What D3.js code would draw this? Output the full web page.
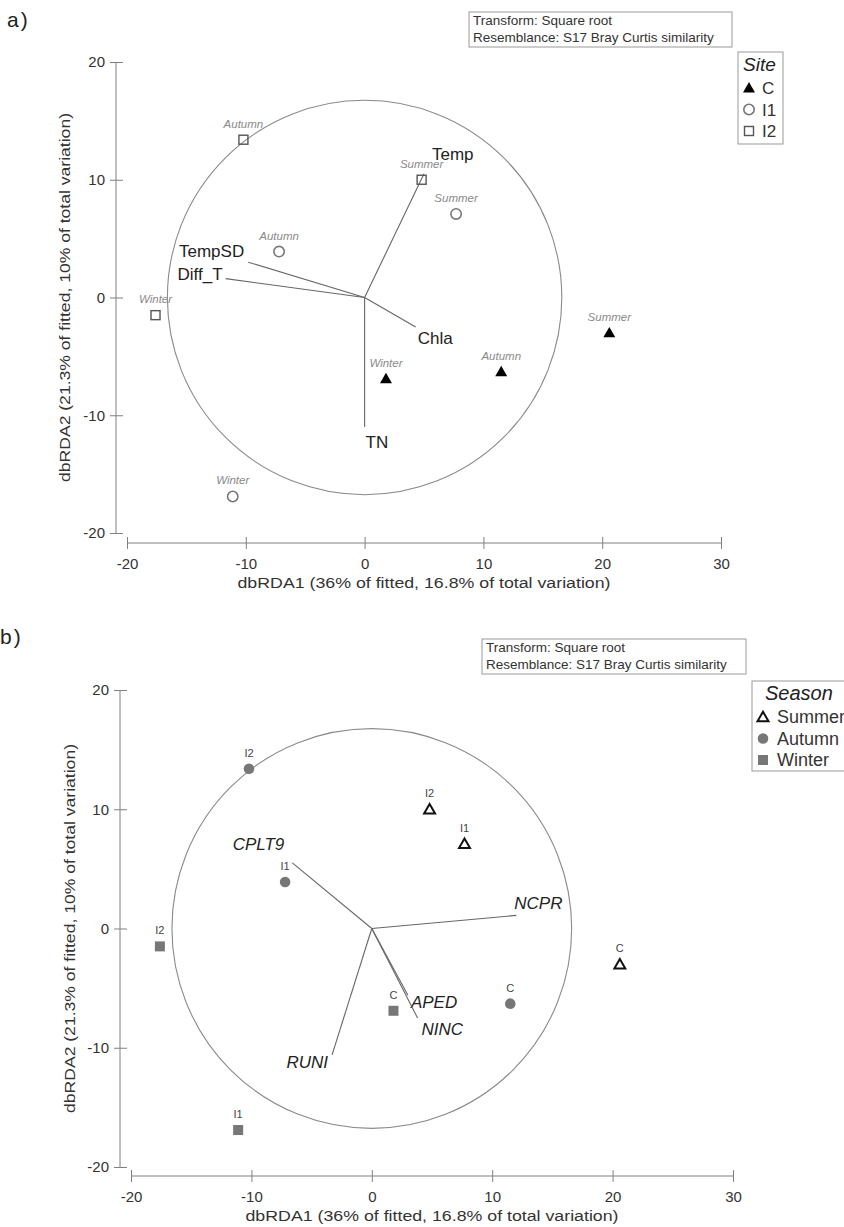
<!DOCTYPE html>
<html>
<head>
<meta charset="utf-8">
<script src="https://cdn.jsdelivr.net/npm/d3@7"></script>
<style>
  body { margin:0; background:#fff; }
  svg { display:block; font-family:"Liberation Sans", Arial, sans-serif; }
</style>
</head>
<body>
<svg id="chart" width="844" height="1227"></svg>
<script>
// samples: site x season
var sampleSite   = ["C","C","C","I1","I1","I1","I2","I2","I2"];
var sampleSeason = ["Summer","Autumn","Winter","Summer","Autumn","Winter","Summer","Autumn","Winter"];
var dbRDA1 = [20.6, 11.5, 1.8, 7.7, -7.2, -11.1, 4.8, -10.2, -17.6];
var dbRDA2 = [-3.0, -6.3, -6.9, 7.1, 3.9, -16.9, 10.0, 13.4, -1.5];

// environmental vectors (panel a)
var envVars = ["Temp","TempSD","Diff_T","Chla","TN"];
var envX    = [5.0, -9.8, -11.7, 4.3, 0.0];
var envY    = [10.5, 3.0, 1.6, -2.5, -11.0];

// species vectors (panel b)
var sppVars = ["CPLT9","NCPR","RUNI","APED","NINC"];
var sppX    = [-6.6, 12.0, -3.3, 3.0, 3.8];
var sppY    = [5.5, 1.1, -10.6, -5.6, -7.5];

var sites   = ["C","I1","I2"];
var seasons = ["Summer","Autumn","Winter"];
var xTicks  = [-20,-10,0,10,20,30];
var yTicks  = [-20,-10,0,10,20];
var corrR   = 16.6;   // correlation circle radius

var xTitle = "dbRDA1 (36% of fitted, 16.8% of total variation)";
var yTitle = "dbRDA2 (21.3% of fitted, 10% of total variation)";
var noteLines = ["Transform: Square root", "Resemblance: S17 Bray Curtis similarity"];

var svg = d3.select("#chart");

// label placement for vector tips
var envLab = {
  Temp:   {dx:8,  dy:-14, a:"start"},
  TempSD: {dx:-4, dy:-5,  a:"end"},
  Diff_T: {dx:-3, dy:1,   a:"end"},
  Chla:   {dx:2,  dy:17,  a:"start"},
  TN:     {dx:1,  dy:21,  a:"start"}
};
var sppLab = {
  CPLT9: {dx:-8, dy:-13, a:"end"},
  NCPR:  {dx:-2, dy:-6,  a:"start"},
  RUNI:  {dx:-4, dy:13,  a:"end"},
  APED:  {dx:3,  dy:13,  a:"start"},
  NINC:  {dx:4,  dy:17,  a:"start"}
};

function marker(g, kind, size) {
  var sym = {tri:d3.symbolTriangle, circ:d3.symbolCircle, sq:d3.symbolSquare}[kind];
  return g.append("path").attr("d", d3.symbol().type(sym).size(size)());
}

function drawPanel(o) {
  var g = svg.append("g");
  var x = d3.scaleLinear().domain([-20,30]).range(o.xr);
  var y = d3.scaleLinear().domain([-20,20]).range(o.yr);
  var fmt = function(d){ return String(d); };

  // axes
  var xa = g.append("g").attr("transform","translate(0,"+o.xAxisY+")")
    .call(d3.axisBottom(x).tickValues(xTicks).tickSize(6).tickPadding(9).tickFormat(fmt));
  xa.selectAll(".tick line").attr("y1",-6);
  var ya = g.append("g").attr("transform","translate("+o.yAxisX+",0)")
    .call(d3.axisLeft(y).tickValues(yTicks).tickSize(6).tickPadding(5).tickFormat(fmt));
  ya.selectAll(".tick line").attr("x1",7);
  [xa,ya].forEach(function(a){
    a.select(".domain").attr("stroke","#808080");
    a.selectAll(".tick line").attr("stroke","#808080");
    a.selectAll(".tick text").attr("font-size",15).attr("fill","#333").attr("font-family","Liberation Sans, Arial");
  });
  xa.select(".domain").attr("d","M"+x(-20)+",0H"+x(30));
  ya.select(".domain").attr("d","M0,"+y(20)+"V"+y(-20));

  g.append("text").attr("x",(x(-20)+x(30))/2).attr("y",o.xTitleY)
    .attr("text-anchor","middle").attr("font-size",15.5).attr("fill","#333")
    .attr("textLength",373).attr("lengthAdjust","spacingAndGlyphs").text(xTitle);
  g.append("text").attr("transform","translate("+o.yTitleX+","+((y(20)+y(-20))/2)+") rotate(-90)")
    .attr("text-anchor","middle").attr("font-size",15.5).attr("fill","#333")
    .attr("textLength",369).attr("lengthAdjust","spacingAndGlyphs").text(yTitle);

  // correlation circle
  g.append("circle").attr("cx",x(0)).attr("cy",y(0)).attr("r",x(corrR)-x(0))
    .attr("fill","none").attr("stroke","#8a8a8a").attr("stroke-width",1.1);

  // vectors
  o.vars.forEach(function(v,i){
    var ex = x(o.vx[i]), ey = y(o.vy[i]), L = o.lab[v];
    g.append("line").attr("x1",x(0)).attr("y1",y(0)).attr("x2",ex).attr("y2",ey)
      .attr("stroke","#666").attr("stroke-width",1.1);
    g.append("text").attr("x",ex+L.dx).attr("y",ey+L.dy).attr("text-anchor",L.a)
      .attr("font-size",17).attr("fill","#222").attr("font-style",o.italic ? "italic" : null).text(v);
  });

  // samples
  dbRDA1.forEach(function(d,i){
    var px = x(d), py = y(dbRDA2[i]);
    var mg = g.append("g").attr("transform","translate("+px+","+py+")");
    o.drawMarker(mg, sampleSite[i], sampleSeason[i]);
    g.append("text").attr("x",px).attr("y",py-12).attr("text-anchor","middle")
      .attr("font-size",o.ptFont).attr("fill",o.ptColor).attr("font-style",o.ptItalic ? "italic" : null)
      .text(o.ptLabel(i));
  });

  // note box
  var nb = g.append("g");
  nb.append("rect").attr("x",o.note[0]).attr("y",o.note[1]).attr("width",o.note[2]).attr("height",o.note[3])
    .attr("fill","none").attr("stroke","#999");
  noteLines.forEach(function(t,k){
    nb.append("text").attr("x",o.note[0]+4).attr("y",o.note[1]+13+k*16.5).attr("font-size",13.5)
      .attr("fill","#333").text(t);
  });

  // legend
  var lg = g.append("g");
  lg.append("rect").attr("x",o.leg[0]).attr("y",o.leg[1]).attr("width",o.leg[2]).attr("height",o.leg[3])
    .attr("fill","none").attr("stroke","#999");
  lg.append("text").attr("x",o.legTitleX).attr("y",o.leg[1]+19).attr("font-size",o.legTitleFont)
    .attr("font-style","italic").attr("fill","#222").text(o.legTitle);
  o.legItems.forEach(function(t,k){
    var iy = o.leg[1]+36+k*21.5;
    var mg = lg.append("g").attr("transform","translate("+(o.leg[0]+11)+","+iy+")");
    o.drawLegMarker(mg, t);
    lg.append("text").attr("x",o.leg[0]+o.legTextDx).attr("y",iy+6).attr("font-size",o.legFont)
      .attr("fill","#333").text(t);
  });

  svg.append("text").attr("x",o.tag[0]).attr("y",o.tag[1]).attr("font-size",21)
    .attr("letter-spacing",2).attr("fill","#222").text(o.tagText);
}

function siteMarker(g, site) {
  if (site === "C") marker(g,"tri",62).attr("fill","#000").attr("transform","translate(0,1)");
  else if (site === "I1") g.append("circle").attr("r",5.2).attr("fill","none").attr("stroke","#777").attr("stroke-width",1.6);
  else g.append("rect").attr("x",-4.5).attr("y",-4.5).attr("width",9).attr("height",9)
        .attr("fill","none").attr("stroke","#555").attr("stroke-width",1.4);
}
function seasonMarker(g, season) {
  if (season === "Summer") marker(g,"tri",52).attr("fill","#fff").attr("stroke","#111").attr("stroke-width",2).attr("transform","translate(0,1)");
  else if (season === "Autumn") g.append("circle").attr("r",5.3).attr("fill","#777");
  else g.append("rect").attr("x",-5).attr("y",-5).attr("width",10).attr("height",10).attr("fill","#777");
}

drawPanel({
  xr:[127,721], yr:[533,62], xAxisY:543, yAxisX:116, xTitleY:588, yTitleX:70,
  vars:envVars, vx:envX, vy:envY, lab:envLab, italic:false,
  drawMarker:function(g,s){ siteMarker(g,s); },
  ptLabel:function(i){ return sampleSeason[i]; }, ptFont:11.5, ptColor:"#8a8a8a", ptItalic:true,
  note:[469,12,263,35], leg:[738,52,45,92], legTitle:"Site", legTitleX:743, legTitleFont:19,
  legFont:17, legTextDx:24,
  legItems:sites, drawLegMarker:function(g,t){ siteMarker(g,t); },
  tag:[7,27], tagText:"a)"
});

drawPanel({
  xr:[131,733], yr:[1167,690], xAxisY:1176, yAxisX:120, xTitleY:1221, yTitleX:75,
  vars:sppVars, vx:sppX, vy:sppY, lab:sppLab, italic:true,
  drawMarker:function(g,s,se){ seasonMarker(g,se); },
  ptLabel:function(i){ return sampleSite[i]; }, ptFont:11, ptColor:"#444", ptItalic:false,
  note:[482,639,264,35], leg:[752,681,100,90], legTitle:"Season", legTitleX:765, legTitleFont:20,
  legFont:18, legTextDx:25,
  legItems:seasons, drawLegMarker:function(g,t){ seasonMarker(g,t); },
  tag:[0,644], tagText:"b)"
});
</script>
</body>
</html>
